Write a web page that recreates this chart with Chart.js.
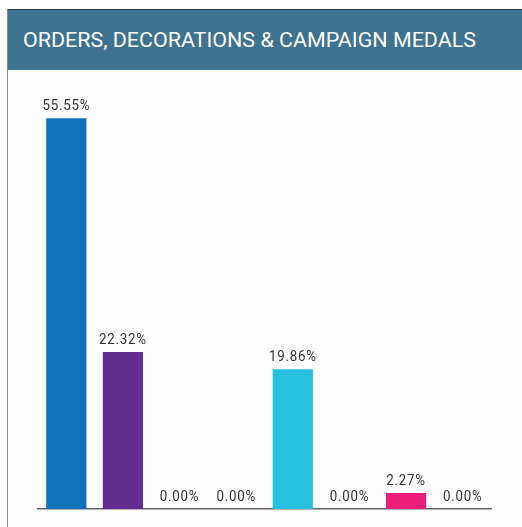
<!DOCTYPE html>
<html><head><meta charset="utf-8">
<script src="https://cdn.jsdelivr.net/npm/chart.js@4.4.0/dist/chart.umd.min.js"></script>
<style>
html,body{margin:0;padding:0;background:#fff;width:522px;height:527px;overflow:hidden}
#panel{position:absolute;left:7px;top:9px;width:515px;height:518px;background:#fdfdfd;border-left:1.5px solid #8a8a8a}
#hdr{position:absolute;left:0;top:0;width:515px;height:61px;background:#3d7290;border-top:1.5px solid #2c3e4c;box-sizing:border-box}
#hdr span{position:absolute;left:15px;top:18px;font-family:Roboto,sans-serif;font-size:21px;color:#fff;white-space:nowrap;transform:scaleX(1.0);transform-origin:left top;letter-spacing:0px}
#wrap{position:absolute;left:1px;top:61px;width:514px;height:457px}
</style></head><body>
<div id="panel"><div id="hdr"><span id="t">ORDERS, DECORATIONS &amp; CAMPAIGN MEDALS</span></div>
<div id="wrap"><canvas id="c" width="514" height="457"></canvas></div></div>
<script>
const categories = ["A","B","C","D","E","F","G","H"];
const values = [55.55, 22.32, 0.00, 0.00, 19.86, 0.00, 2.27, 0.00];
const colors = ["#0f72bb","#652d90","#c0392b","#c98a3a","#27c0e0","#3a9a5a","#ec1e79","#8a8a8a"];
// fit title to 453px
(function(){const s=document.getElementById('t');const w=s.getBoundingClientRect().width;s.style.transform='scaleX('+(453/w)+')';})();
const labelPlugin = {
  id:'lbl',
  afterDatasetsDraw(chart){
    const ctx = chart.ctx;
    const meta = chart.getDatasetMeta(0);
    ctx.save();
    ctx.font = '14px Roboto, sans-serif';
    ctx.fillStyle = '#333';
    ctx.textAlign = 'center';
    ctx.textBaseline = 'bottom';
    meta.data.forEach((el,i)=>{
      const t = values[i].toFixed(2)+'%';
      ctx.save();
      ctx.translate(el.x, el.y-5);
      ctx.scale(0.95,1);
      ctx.letterSpacing = '0.8px';
      ctx.fillText(t,0,0);
      ctx.restore();
    });
    ctx.restore();
  }
};
new Chart(document.getElementById('c'),{
  type:'bar',
  data:{labels:categories,datasets:[{data:values,backgroundColor:colors,barPercentage:0.71,categoryPercentage:1.0,minBarLength:0}]},
  options:{
    responsive:false,animation:false,
    layout:{padding:{left:29,right:32,top:17,bottom:18}},
    plugins:{legend:{display:false},tooltip:{enabled:false}},
    scales:{
      x:{display:true,ticks:{display:false},grid:{display:false,drawTicks:false},border:{display:true,color:'#666',width:1.5}},
      y:{display:false,min:0,max:60}
    }
  },
  plugins:[labelPlugin]
});
</script></body></html>
